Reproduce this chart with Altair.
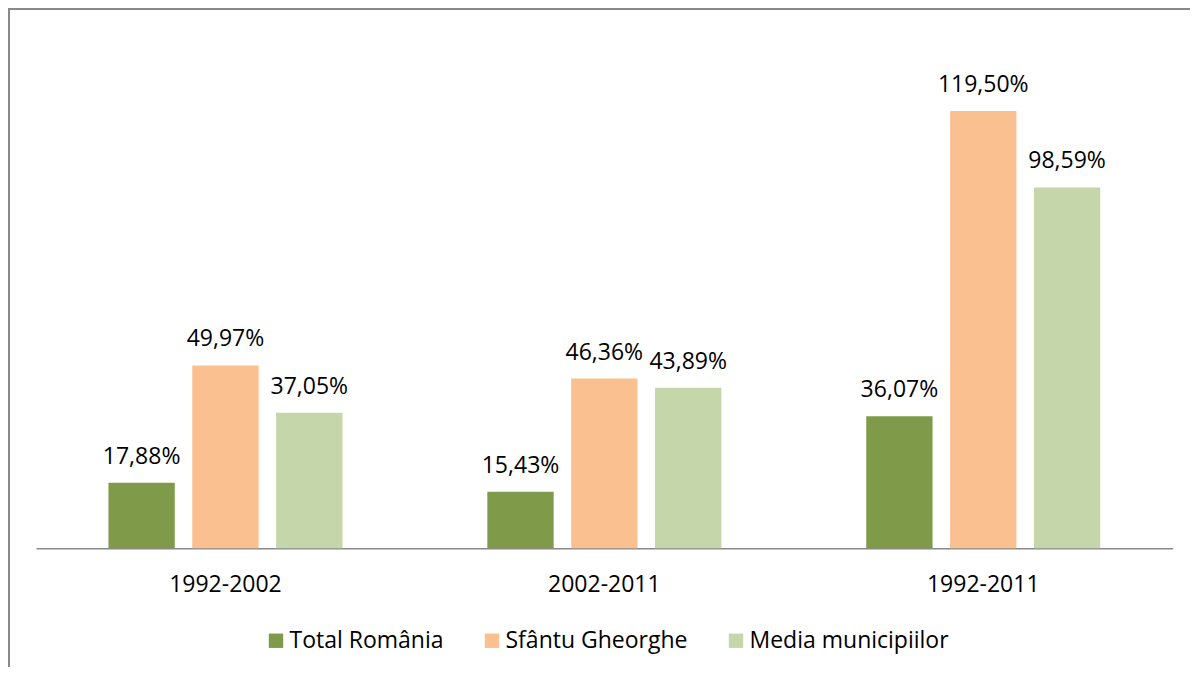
import altair as alt
import pandas as pd

periods = ["1992-2002", "2002-2011", "1992-2011"]
series = ["Total România", "Sfântu Gheorghe", "Media municipiilor"]
total_romania = [17.88, 15.43, 36.07]
sfantu_gheorghe = [49.97, 46.36, 119.50]
media_municipiilor = [37.05, 43.89, 98.59]
colors = ["#7f9b4a", "#fac090", "#c5d6aa"]

rows = []
for name, vals in zip(series, [total_romania, sfantu_gheorghe, media_municipiilor]):
    for p, v in zip(periods, vals):
        rows.append({"period": p, "series": name, "value": v,
                     "label": f"{v:.2f}".replace(".", ",") + "%"})
df = pd.DataFrame(rows)

W, H = 1182, 659
FONT = "Open Sans"

x_enc = alt.X("period:N", sort=periods,
              scale=alt.Scale(range=[28, 1164.7], paddingInner=0, paddingOuter=0),
              axis=alt.Axis(title=None, labelAngle=0, ticks=False, tickSize=0,
                            labelPadding=25, labelFontSize=23, labelFont=FONT,
                            labelColor="black", domainColor="#898989",
                            domainWidth=1.6, offset=-118.7, grid=False))
xo_enc = alt.XOffset("series:N", sort=series,
                     scale=alt.Scale(paddingInner=0.209, paddingOuter=0.864))
y_enc = alt.Y("value:Q", scale=alt.Scale(domain=[0, 140], range=[540.3, 27.9]),
              axis=None)

base = alt.Chart(df)
bars = base.mark_bar().encode(
    x=x_enc, xOffset=xo_enc, y=y_enc,
    color=alt.Color("series:N", sort=series,
                    scale=alt.Scale(domain=series, range=colors),
                    legend=alt.Legend(orient="none", legendX=256.5, legendY=621,
                                      direction="horizontal", title=None,
                                      symbolType="square", symbolSize=207,
                                      symbolStrokeWidth=0, labelFontSize=23,
                                      labelFont=FONT, labelColor="black",
                                      labelOffset=2, columnPadding=36,
                                      labelLimit=400, padding=0)),
)
labels = base.mark_text(dy=-19, baseline="alphabetic", align="center",
                        fontSize=23, font=FONT, color="black").encode(
    x=x_enc, xOffset=xo_enc, y=y_enc, text="label:N")

border_src = alt.Data(values=[{"k": 1}])
left_border = alt.Chart(border_src).mark_rule(color="#898989", strokeWidth=2).encode(
    x=alt.value(1), y=alt.value(0), y2=alt.value(H))
top_border = alt.Chart(border_src).mark_rule(color="#898989", strokeWidth=2).encode(
    x=alt.value(0), x2=alt.value(W), y=alt.value(1))

chart = alt.layer(bars, labels, left_border, top_border).properties(
    width=W, height=H, padding=0, autosize=alt.AutoSizeParams(type="none"),
    background="white"
).configure_view(strokeWidth=0).configure(font=FONT)

chart.save("out.html", embed_options={"renderer": "svg", "actions": False})
